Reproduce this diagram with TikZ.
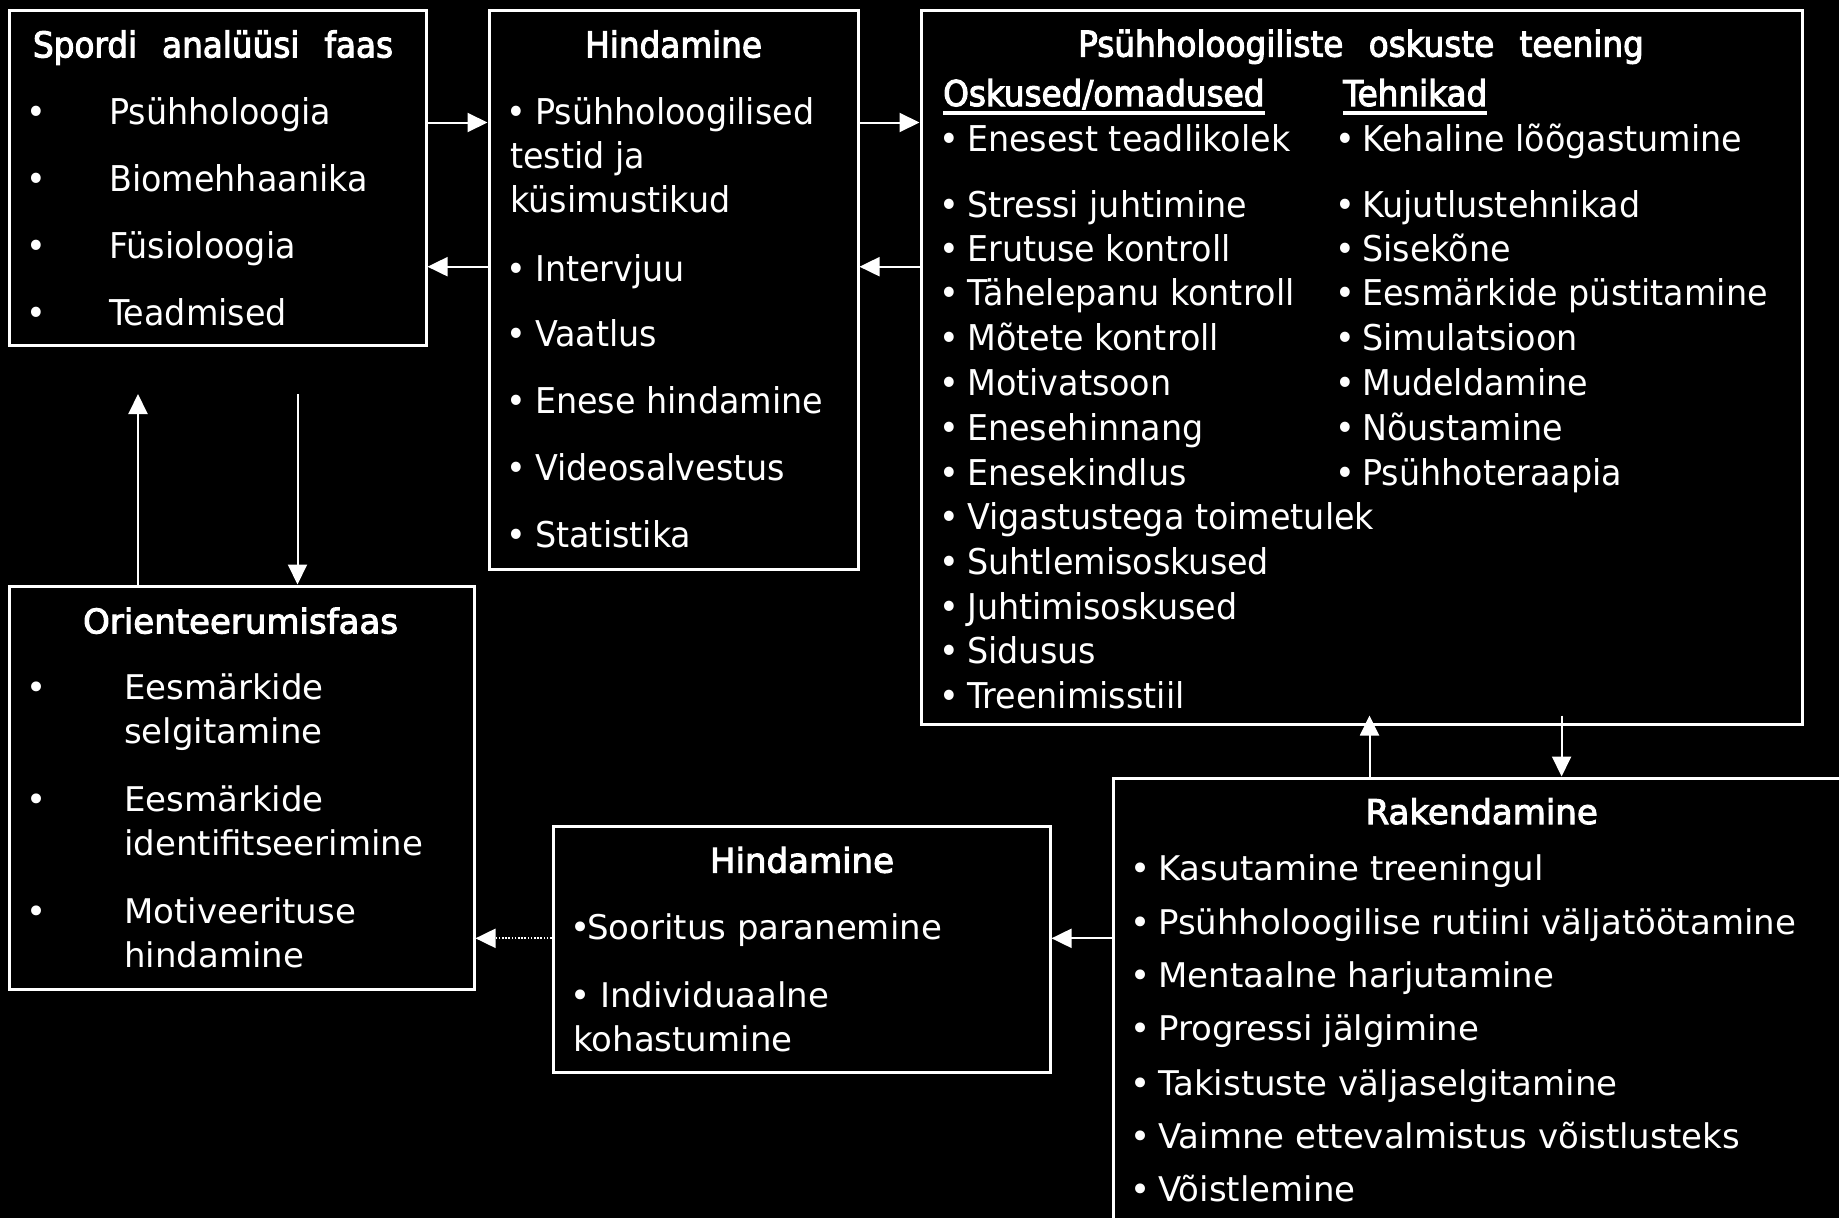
\documentclass[tikz,border=0pt]{standalone}
\usepackage{fontspec}
\setmainfont{DejaVu Sans}
\newfontfamily\fa[FakeStretch=0.94]{DejaVu Sans}
\newfontfamily\fab[FakeStretch=0.92,FakeBold=3]{DejaVu Sans}
\newfontfamily\fb{DejaVu Sans}
\newfontfamily\fbb[FakeBold=3]{DejaVu Sans}
\usetikzlibrary{arrows.meta,calc}
\tikzset{
  box/.style={draw=white,line width=3pt,inner sep=0pt},
  atxt/.style={font=\fa\fontsize{35.5}{40}\selectfont,text=white,inner sep=0pt,anchor=base west},
  abul/.style={font=\fa\fontsize{35.5}{40}\selectfont,text=white,inner sep=0pt,anchor=base},
  ahd/.style={font=\fab\fontsize{35.5}{40}\selectfont,text=white,inner sep=0pt,anchor=base},
  btxt/.style={font=\fb\fontsize{34}{40}\selectfont,text=white,inner sep=0pt,anchor=base west},
  bbul/.style={font=\fb\fontsize{34}{40}\selectfont,text=white,inner sep=0pt,anchor=base},
  bhd/.style={font=\fbb\fontsize{34}{40}\selectfont,text=white,inner sep=0pt,anchor=base},
  arr/.style={draw=white,line width=2pt,-{Triangle[length=20pt,width=19pt]}},
  dotarr/.style={arr,dash pattern=on 1.6pt off 1.6pt},
  uline/.style={draw=white,line width=3.5pt},
}
\newcommand\myli[6]{\node[#6bul] (#1b) at (#2,#4) {•}; \node[#6txt] (#1) at (#3,#4) {#5};}
\newcommand\mytx[5]{\node[#5txt] (#1) at (#2,#3) {#4};}
\newcommand\wsp{\hspace{25pt}}
\begin{document}
\begin{tikzpicture}[x=1pt,y=-1pt]
\useasboundingbox (0,0) rectangle (1839,1218);
\fill[black] (0,0) rectangle (1839,1218);
\clip (0,0) rectangle (1839,1218);

% boxes
\node[box,minimum width=417pt,minimum height=335pt] (b1) at (217.5,177.5) {};
\node[box,minimum width=369pt,minimum height=559pt] (b2) at (673.5,289.5) {};
\node[box,minimum width=881pt,minimum height=714pt] (b3) at (1361.5,367) {};
\node[box,minimum width=465pt,minimum height=403pt] (b4) at (241.5,787.5) {};
\node[box,minimum width=497pt,minimum height=246pt] (b5) at (801.5,949) {};
\node[box,minimum width=787pt,minimum height=482pt] (b6) at (1506.5,1019) {};

% box 1
\node[ahd] (t1) at (213,57.4) {Spordi\wsp analüüsi\wsp faas};
\myli{s1}{36.4}{109}{124.4}{Psühholoogia}{a}
\myli{s2}{36.4}{109}{191.3}{Biomehhaanika}{a}
\myli{s3}{36.4}{109}{258.3}{Füsioloogia}{a}
\myli{s4}{36.4}{109}{325.3}{Teadmised}{a}

% box 2
\node[ahd] (t2) at (673.6,57.4) {Hindamine};
\myli{h1}{516.4}{535}{124.4}{Psühholoogilised}{a}
\mytx{h1a}{510}{168.4}{testid ja}{a}
\mytx{h1c}{510}{212.4}{küsimustikud}{a}
\myli{h2}{516.4}{535}{281.3}{Intervjuu}{a}
\myli{h3}{516.4}{535}{346.3}{Vaatlus}{a}
\myli{h4}{516.4}{535}{413.3}{Enese hindamine}{a}
\myli{h5}{516.4}{535}{480.3}{Videosalvestus}{a}
\myli{h6}{516.4}{535}{547.2}{Statistika}{a}

% box 3
\node[ahd] (t3) at (1361,56.6) {Psühholoogiliste\hspace{15pt} oskuste\hspace{15pt} teening};
\node[ahd,anchor=base west] (k1) at (943,106) {Oskused/omadused};
\node[ahd,anchor=base west] (k2) at (1343,106) {Tehnikad};
\draw[uline] ($(k1.base west)+(0,7)$) -- ($(k1.base east)+(0,7)$);
\draw[uline] ($(k2.base west)+(0,7)$) -- ($(k2.base east)+(0,7)$);
\myli{o1}{949.4}{967}{151}{Enesest teadlikolek}{a}
\myli{o2}{949.4}{967}{217}{Stressi juhtimine}{a}
\myli{o3}{949.4}{967}{261}{Erutuse kontroll}{a}
\myli{o4}{949.4}{967}{305.8}{Tähelepanu kontroll}{a}
\myli{o5}{949.4}{967}{350.6}{Mõtete kontroll}{a}
\myli{o6}{949.4}{967}{395.5}{Motivatsoon}{a}
\myli{o7}{949.4}{967}{440}{Enesehinnang}{a}
\myli{o8}{949.4}{967}{485}{Enesekindlus}{a}
\myli{o9}{949.4}{967}{529.5}{Vigastustega toimetulek}{a}
\myli{o10}{949.4}{967}{574}{Suhtlemisoskused}{a}
\myli{o11}{949.4}{967}{619}{Juhtimisoskused}{a}
\myli{o12}{949.4}{967}{663}{Sidusus}{a}
\myli{o13}{949.4}{967}{708}{Treenimisstiil}{a}
\myli{e1}{1345}{1362}{151}{Kehaline lõõgastumine}{a}
\myli{e2}{1345}{1362}{217}{Kujutlustehnikad}{a}
\myli{e3}{1345}{1362}{261}{Sisekõne}{a}
\myli{e4}{1345}{1362}{305.8}{Eesmärkide püstitamine}{a}
\myli{e5}{1345}{1362}{350.6}{Simulatsioon}{a}
\myli{e6}{1345}{1362}{395.5}{Mudeldamine}{a}
\myli{e7}{1345}{1362}{440}{Nõustamine}{a}
\myli{e8}{1345}{1362}{485}{Psühhoteraapia}{a}

% box 4
\node[bhd] (t4) at (240.6,633.4) {Orienteerumisfaas};
\myli{r1}{36.5}{124}{699.7}{Eesmärkide}{b}
\mytx{r1a}{124}{743.8}{selgitamine}{b}
\myli{r2}{36.5}{124}{811.8}{Eesmärkide}{b}
\mytx{r2a}{124}{855.8}{identifitseerimine}{b}
\myli{r3}{36.5}{124}{923}{Motiveerituse}{b}
\mytx{r3a}{124}{967}{hindamine}{b}

% box 5
\node[bhd] (t5) at (802,872.6) {Hindamine};
\myli{p1}{580.5}{587}{939.8}{Sooritus paranemine}{b}
\myli{p2}{580.5}{600}{1007}{Individuaalne}{b}
\mytx{p2a}{573}{1051}{kohastumine}{b}

% box 6
\node[bhd] (t6) at (1481.7,824) {Rakendamine};
\myli{q1}{1140.5}{1158}{880.8}{Kasutamine treeningul}{b}
\myli{q2}{1140.5}{1158}{934}{Psühholoogilise rutiini väljatöötamine}{b}
\myli{q3}{1140.5}{1158}{987}{Mentaalne harjutamine}{b}
\myli{q4}{1140.5}{1158}{1040}{Progressi jälgimine}{b}
\myli{q5}{1140.5}{1158}{1095}{Takistuste väljaselgitamine}{b}
\myli{q6}{1140.5}{1158}{1148}{Vaimne ettevalmistus võistlusteks}{b}
\myli{q7}{1140.5}{1158}{1201.6}{Võistlemine}{b}

% connectors
\draw[arr] (b1.east |- 0,122.5) -- (b2.west |- 0,122.5);
\draw[arr] (b2.west |- 0,266.7) -- (b1.east |- 0,266.7);
\draw[arr] (b2.east |- 0,122.5) -- (b3.west |- 0,122.5);
\draw[arr] (b3.west |- 0,266.7) -- (b2.east |- 0,266.7);

\coordinate (u1) at (138,394);
\coordinate (d1) at (297.5,394);
\draw[arr] (b4.north -| u1) -- (u1);
\draw[arr] (d1) -- (b4.north -| d1);

\coordinate (u2) at (1369.5,700);
\coordinate (d2) at (1561.6,700);
\draw[arr,shorten >=-10pt] (b6.north -| u2) -- (b3.south -| u2);
\draw[arr,shorten <=-10pt] (b3.south -| d2) -- (b6.north -| d2);

\draw[arr] (b6.west |- 0,938.3) -- (b5.east |- 0,938.3);
\draw[dotarr] (b5.west |- 0,938.3) -- (b4.east |- 0,938.3);
\end{tikzpicture}
\end{document}
